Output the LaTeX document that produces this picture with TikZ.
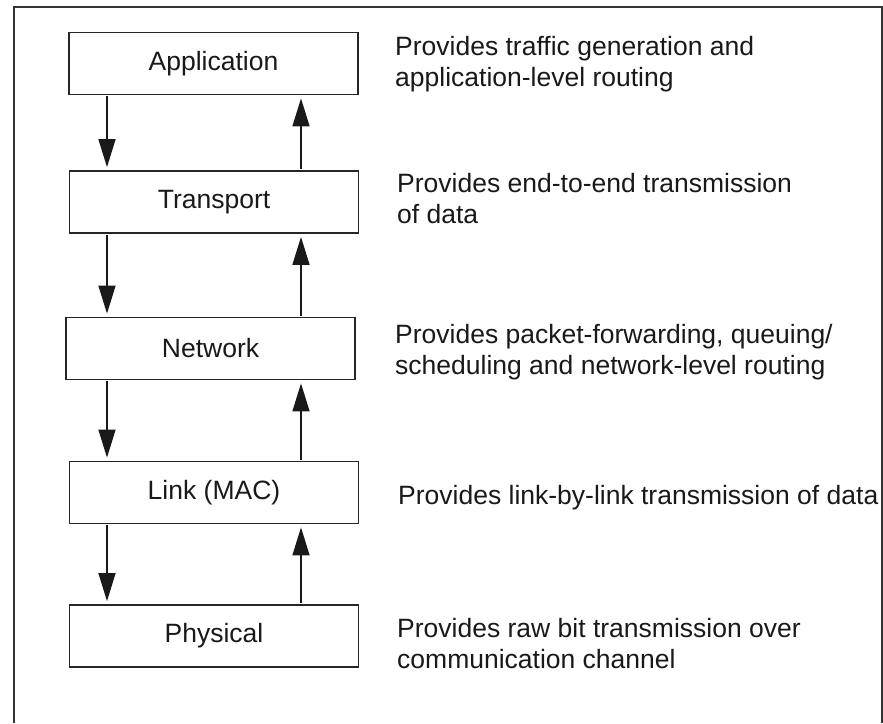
\documentclass[tikz,border=0pt]{standalone}
\usepackage{fontspec}
\setmainfont{Liberation Sans}
\usetikzlibrary{arrows.meta}

\begin{document}
\begin{tikzpicture}[x=1pt,y=-1pt,
  layerbox/.style={draw=black!85, line width=1.8pt, minimum width=289pt,
    minimum height=62pt, inner sep=0pt, text=black!90,
    font=\fontsize{26.5}{31}\selectfont},
  desc/.style={anchor=base west, align=left, inner sep=0pt, text=black!90,
    font=\fontsize{26.5}{30.5}\selectfont},
  flow/.style={line width=1.5pt, draw=black!90,
    -{Triangle[length=28pt,width=17pt]}},
  frameline/.style={line width=1.8pt, draw=black!80}
]
\useasboundingbox (0,0) rectangle (883,723);

% outer frame, open at the bottom
\draw[frameline] (14,723) -- (14,7) -- (882,7) -- (882,723);

% protocol layers
\node[layerbox] (app)  at (213.5,63.5) {Application};
\node[layerbox] (tr)   at (214,202)    {Transport};
\node[layerbox] (net)  at (210.5,348.5){Network};
\node[layerbox] (link) at (214,492.5)  {Link (MAC)};
\node[layerbox] (phy)  at (214,636)    {Physical};

% columns of the down and up arrows
\coordinate (dn) at (107,0);
\coordinate (up) at (301,0);

\foreach \hi/\lo in {app/tr, tr/net, net/link, link/phy}{
  \draw[flow] ([yshift=-1pt]\hi.south -| dn) -- ([yshift=3pt]\lo.north -| dn);
  \draw[flow] ([yshift=1pt]\lo.north -| up) -- ([yshift=-3pt]\hi.south -| up);
}

% layer descriptions (base anchor sits on the last line)
\node[desc] (dapp)  at (395,86)  {Provides traffic generation and\\application-level routing};
\node[desc] (dtr)   at (397,223) {Provides end-to-end transmission\\of data};
\node[desc] (dnet)  at (395,374) {Provides packet-forwarding, queuing/\\scheduling and network-level routing};
\node[desc] (dlink) at (398,504) {Provides link-by-link transmission of data};
\node[desc] (dphy)  at (397,668) {Provides raw bit transmission over\\communication channel};
\end{tikzpicture}
\end{document}
